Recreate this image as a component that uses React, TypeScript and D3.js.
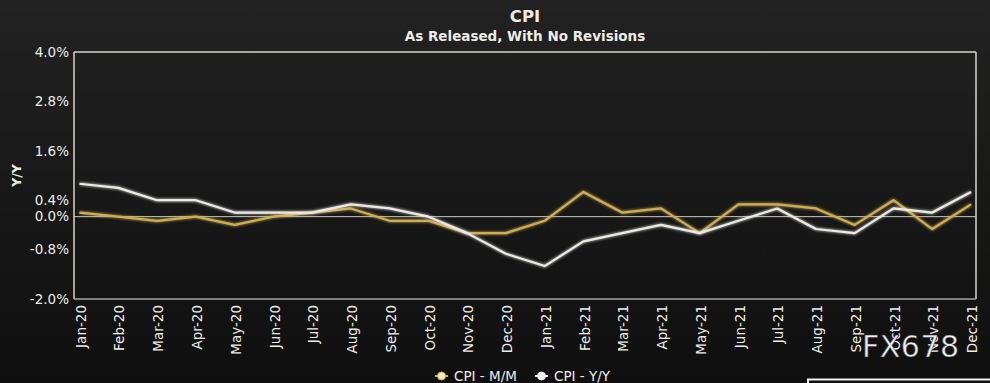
import React from "react";
import * as d3 from "d3";

const months = [
  "Jan-20","Feb-20","Mar-20","Apr-20","May-20","Jun-20","Jul-20","Aug-20","Sep-20","Oct-20","Nov-20","Dec-20",
  "Jan-21","Feb-21","Mar-21","Apr-21","May-21","Jun-21","Jul-21","Aug-21","Sep-21","Oct-21","Nov-21","Dec-21",
];
const cpiMoM = [0.1,0.0,-0.1,0.0,-0.2,0.0,0.1,0.2,-0.1,-0.1,-0.4,-0.4,-0.1,0.6,0.1,0.2,-0.4,0.3,0.3,0.2,-0.2,0.4,-0.3,0.3];
const cpiYoY = [0.8,0.7,0.4,0.4,0.1,0.1,0.1,0.3,0.2,0.0,-0.4,-0.9,-1.2,-0.6,-0.4,-0.2,-0.4,-0.1,0.2,-0.3,-0.4,0.2,0.1,0.6];
const yTicks = [4.0, 2.8, 1.6, 0.4, 0.0, -0.8, -2.0];
const seriesNames = ["CPI - M/M", "CPI - Y/Y"];

const W = 990, H = 383;
const L = 74, R = 976, T = 52, B = 299;
const FONT = "'DejaVu Sans', Verdana, sans-serif";
const GOLD = "#cfae52";
const WHITE = "#ebe9e4";
const TEXT = "#eeece6";

export default function App() {
  const x = d3.scalePoint<string>().domain(months).range([79.5, 971]);
  const y = d3.scaleLinear().domain([-2, 4]).range([B, T]);
  const line = d3.line<number>().x((_, i) => x(months[i]) as number).y((d) => y(d));

  return (
    <svg width={W} height={H} style={{ position: "absolute", left: 0, top: 0 }}>
      <defs>
        <linearGradient id="bg" x1="0" y1="0" x2="0" y2="1">
          <stop offset="0" stopColor="#222222" />
          <stop offset="1" stopColor="#0f0f0f" />
        </linearGradient>
        <filter id="glow" x="-5%" y="-20%" width="110%" height="140%">
          <feGaussianBlur in="SourceGraphic" stdDeviation="1.4" result="b" />
          <feMerge>
            <feMergeNode in="b" />
            <feMergeNode in="SourceGraphic" />
          </feMerge>
        </filter>
      </defs>
      <rect x={0} y={0} width={W} height={H} fill="url(#bg)" />

      {/* titles */}
      <text x={(L + R) / 2} y={22} textAnchor="middle" fill={TEXT} fontFamily={FONT} fontWeight="bold" fontSize={16.5}>CPI</text>
      <text x={(L + R) / 2} y={41} textAnchor="middle" fill={TEXT} fontFamily={FONT} fontWeight="bold" fontSize={13.5}>As Released, With No Revisions</text>

      {/* plot frame */}
      <line x1={L} x2={R} y1={T} y2={T} stroke="#d9d5cc" strokeWidth={1.5} />
      <line x1={R} x2={R} y1={T} y2={B} stroke="#d9d5cc" strokeWidth={1.5} />
      <line x1={L} x2={L} y1={T} y2={B} stroke="#d9d5cc" strokeWidth={1.5} />
      <line x1={L} x2={R} y1={B} y2={B} stroke="#a9a6a0" strokeWidth={1.5} />
      <line x1={L} x2={R} y1={y(0)} y2={y(0)} stroke="#cfcbc3" strokeWidth={1} />

      {/* y axis */}
      {yTicks.map((t) => (
        <text key={t} x={69} y={y(t)} dy="0.35em" textAnchor="end" fill={TEXT} fontFamily={FONT} fontSize={13.5}>
          {t.toFixed(1) + "%"}
        </text>
      ))}
      <text transform={`translate(17,${(T + B) / 2}) rotate(-90)`} textAnchor="middle" dy="0.35em" fill={TEXT} fontFamily={FONT} fontWeight="bold" fontSize={12.5}>Y/Y</text>

      {/* x axis labels */}
      {months.map((m) => (
        <text key={m} transform={`translate(${(x(m) as number) + 1.5},305) rotate(-90)`} textAnchor="end" dy="0.35em" fill={TEXT} fontFamily={FONT} fontSize={13.5}>
          {m}
        </text>
      ))}

      {/* series */}
      <path d={line(cpiMoM) || ""} fill="none" stroke={GOLD} strokeWidth={2.2} filter="url(#glow)" strokeLinejoin="round" />
      <path d={line(cpiYoY) || ""} fill="none" stroke={WHITE} strokeWidth={2.2} filter="url(#glow)" strokeLinejoin="round" />

      {/* legend */}
      {seriesNames.map((n, i) => {
        const lx = i === 0 ? 435 : 535;
        const col = i === 0 ? GOLD : WHITE;
        const fillC = i === 0 ? "#f3e7c4" : "#f2f0ec";
        return (
          <g key={n}>
            <line x1={lx} x2={lx + 13} y1={376} y2={376} stroke={col} strokeWidth={2} />
            <circle cx={lx + 6.5} cy={376} r={4} fill={fillC} stroke={col} strokeWidth={1} />
            <text x={lx + 19} y={381} fill={TEXT} fontFamily={FONT} fontSize={13.5}>{n}</text>
          </g>
        );
      })}

      {/* watermark */}
      <text x={862} y={357} fill="#ececec" stroke="#2a2a2a" strokeWidth={0.5} fontFamily={FONT} fontSize={30} letterSpacing={0.5}>FX678</text>
      <rect x={808} y={379.5} width={200} height={20} fill="none" stroke="#f2f2f2" strokeWidth={2} />
    </svg>
  );
}
